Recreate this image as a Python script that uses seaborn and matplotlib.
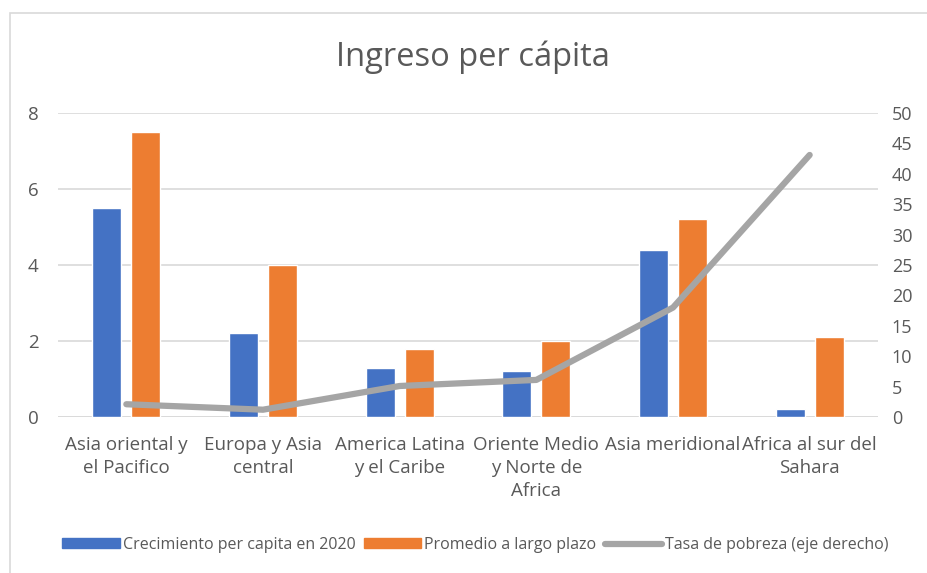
import pandas as pd
import matplotlib.pyplot as plt
import seaborn as sns
from matplotlib.patches import Rectangle
from matplotlib.lines import Line2D

# --- données ---
regiones = ['Asia oriental y\nel Pacifico', 'Europa y Asia\ncentral', 'America Latina\ny el Caribe',
            'Oriente Medio\ny Norte de\nAfrica', 'Asia meridional', 'Africa al sur del\nSahara']
crecimiento_2020 = [5.5, 2.2, 1.3, 1.2, 4.4, 0.2]
promedio_largo = [7.5, 4.0, 1.8, 2.0, 5.2, 2.1]
tasa_pobreza = [2.1, 1.2, 5.1, 6.1, 18.0, 43.1]

serie_azul = 'Crecimiento per capita en 2020'
serie_naranja = 'Promedio a largo plazo'
serie_gris = 'Tasa de pobreza (eje derecho)'

df = pd.DataFrame({'Region': regiones * 2,
                   'Valor': crecimiento_2020 + promedio_largo,
                   'Serie': [serie_azul] * 6 + [serie_naranja] * 6})
df_linea = pd.DataFrame({'Region': regiones, 'Tasa': tasa_pobreza})

sns.set_style('white')
plt.rcParams['font.family'] = ['Open Sans', 'DejaVu Sans']

W, H = 927, 573
fig = plt.figure(figsize=(W / 100, H / 100), dpi=100)
ax = fig.add_axes([58 / W, 1 - 417 / H, (878 - 58) / W, (417 - 113) / H])

azul, naranja, gris = '#4472C4', '#ED7D31', '#A5A5A5'
sns.barplot(data=df, x='Region', y='Valor', hue='Serie', palette=[azul, naranja],
            width=0.57, gap=0.26, ax=ax, legend=False, saturation=1)

ax.set_ylim(0, 8)
ax.set_yticks([0, 2, 4, 6, 8])
ax.set_xlim(-0.5, 5.5)
ax.grid(True, axis='y', color='#D9D9D9', linewidth=1.2)
ax.set_axisbelow(True)
for s in ax.spines.values():
    s.set_visible(False)
ax.axhline(0, color='#D9D9D9', linewidth=1.2, zorder=0)
ax.set_xlabel('')
ax.set_ylabel('')
ax.tick_params(axis='both', length=0, labelsize=13.5, labelcolor='#595959')
ax.tick_params(axis='y', pad=14)
ax.tick_params(axis='x', pad=14)
for lbl in ax.get_xticklabels():
    lbl.set_linespacing(1.35)

ax2 = ax.twinx()
sns.lineplot(data=df_linea, x='Region', y='Tasa', color=gris, linewidth=4.5,
             ax=ax2, solid_capstyle='round', sort=False)
ax2.set_ylim(0, 50)
ax2.set_yticks(range(0, 55, 5))
ax2.set_ylabel('')
for s in ax2.spines.values():
    s.set_visible(False)
ax2.tick_params(axis='y', length=0, labelsize=13, labelcolor='#595959', pad=10)
ax2.grid(False)

fig.text(0.51, 1 - 57 / H, 'Ingreso per cápita', ha='center', va='center',
         fontsize=23.5, color='#595959')

handles = [Rectangle((0, 0), 1, 1, color=azul), Rectangle((0, 0), 1, 1, color=naranja),
           Line2D([0], [0], color=gris, linewidth=4.5, solid_capstyle='round')]
fig.legend(handles, [serie_azul, serie_naranja, serie_gris], loc='center',
           bbox_to_anchor=(0.513, 1 - 545 / H), ncol=3, frameon=False, fontsize=11.5,
           labelcolor='#595959', handlelength=3.6, handleheight=0.6, handletextpad=0.2,
           columnspacing=0.5)

fig.add_artist(Rectangle((10 / W, -0.1), 1.1, 1 - 13 / H + 0.1, transform=fig.transFigure,
                         fill=False, edgecolor='#D9D9D9', linewidth=1.2))

plt.savefig('out.png', dpi=100)
